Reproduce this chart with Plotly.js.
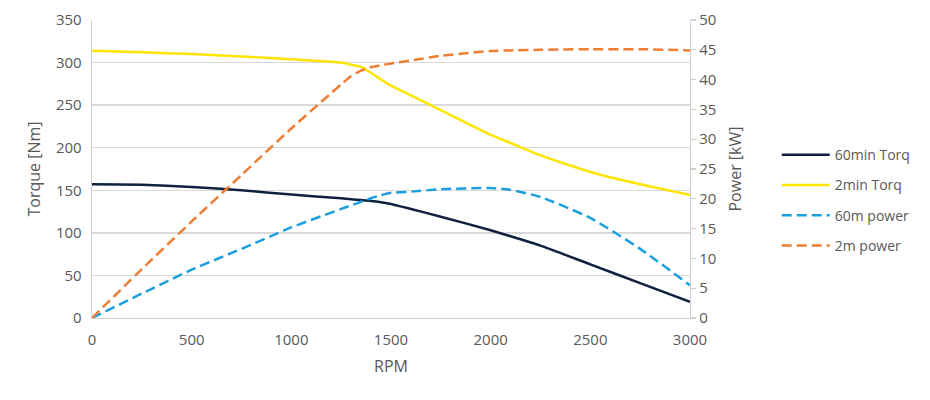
<!DOCTYPE html>
<html>
<head>
<meta charset="utf-8">
<script src="https://cdn.plot.ly/plotly-3.0.1.min.js"></script>
<style>html,body{margin:0;padding:0;background:#fff;}#chart{width:930px;height:400px;}</style>
</head>
<body>
<div id="chart"></div>
<script>
const rpm = [0, 250, 500, 750, 1000, 1250, 1300, 1350, 1400, 1450, 1500, 1600, 1750, 2000, 2100, 2250, 2500, 2750, 3000];
const torque60 = [157, 156.5, 154, 150, 145, 140.5, 139.5, 138.5, 137.5, 136, 134, 128, 119, 103, 96, 85, 63, 41, 19];
const torque2 = [314, 312, 310, 307, 304, 300, 297.5, 295, 288, 280, 273, 261.5, 244, 215, 205.5, 191, 171.5, 157, 144.5];
const power60 = [0, 4.1, 8.1, 11.6, 15.2, 18.3, 18.9, 19.5, 20.1, 20.6, 21.0, 21.2, 21.6, 21.8, 21.5, 20.3, 16.8, 11.6, 5.5];
const power2 = [0, 8.2, 16.2, 24.0, 31.8, 39.2, 40.6, 41.5, 42.1, 42.4, 42.7, 43.2, 44.0, 44.8, 44.9, 45.0, 45.1, 45.1, 44.9];

const names = ['60min Torq', '2min Torq', '60m power', '2m power'];
const colors = ['#0e2240', '#ffe400', '#1b9fdf', '#ef7d33'];

const tickFont = {family: 'Open Sans, sans-serif', size: 15, color: '#595959'};
const titleFont = {family: 'Open Sans, sans-serif', size: 16, color: '#595959'};
const legendFont = {family: 'Open Sans, sans-serif', size: 14, color: '#595959'};

const traces = [
  {x: rpm, y: torque60, name: names[0], yaxis: 'y', line: {color: colors[0], width: 2.5, shape: 'spline', smoothing: 0.5}},
  {x: rpm, y: torque2, name: names[1], yaxis: 'y', line: {color: colors[1], width: 2.5, shape: 'spline', smoothing: 0.5}},
  {x: rpm, y: power60, name: names[2], yaxis: 'y2', line: {color: colors[2], width: 2.5, dash: '10px,5px', shape: 'spline', smoothing: 0.5}},
  {x: rpm, y: power2, name: names[3], yaxis: 'y2', line: {color: colors[3], width: 2.5, dash: '10px,5px', shape: 'spline', smoothing: 0.5}}
].map((t, i) => Object.assign(t, {type: 'scatter', mode: 'lines', legendgroup: 'g' + i, hoverinfo: 'skip'}));

const layout = {
  width: 930, height: 400,
  margin: {l: 92, r: 240, t: 20, b: 82},
  paper_bgcolor: '#fff', plot_bgcolor: '#fff',
  font: tickFont,
  showlegend: true,
  legend: {x: 1.145, xanchor: 'left', y: 0.6, yanchor: 'top', font: legendFont, traceorder: 'grouped', tracegroupgap: 9, itemwidth: 48, bgcolor: 'rgba(0,0,0,0)'},
  xaxis: {range: [0, 3000], dtick: 500, tick0: 0, showgrid: false, zeroline: false, showline: true, linecolor: '#cfcfcf', linewidth: 1.3, ticks: '', tickfont: tickFont,
          ticklabelstandoff: 8,
          title: {text: 'RPM', font: titleFont, standoff: 12}, fixedrange: true},
  yaxis: {range: [0, 350], dtick: 50, tick0: 0, showgrid: true, gridcolor: '#d9d9d9', gridwidth: 1.3, zeroline: false, showline: true, linecolor: '#cfcfcf', linewidth: 1.3, ticks: '', tickfont: tickFont,
          ticklabelstandoff: 6,
          title: {text: 'Torque [Nm]', font: titleFont, standoff: 11}, fixedrange: true},
  yaxis2: {range: [0, 50], dtick: 5, tick0: 0, overlaying: 'y', side: 'right', showgrid: false, zeroline: false, showline: true, linecolor: '#cfcfcf', linewidth: 1.3,
           ticks: 'outside', ticklen: 5, tickcolor: '#cfcfcf', tickwidth: 1.3, tickfont: tickFont,
           title: {text: 'Power [kW]', font: titleFont, standoff: 14}, fixedrange: true}
};

Plotly.newPlot('chart', traces, layout, {displayModeBar: false, staticPlot: true});
</script>
</body>
</html>
